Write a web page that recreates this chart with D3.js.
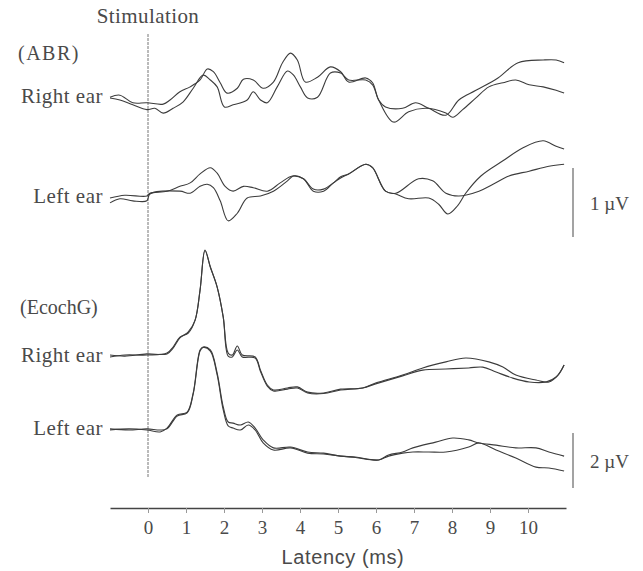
<!DOCTYPE html>
<html>
<head>
<meta charset="utf-8">
<script src="https://cdn.jsdelivr.net/npm/d3@7"></script>
<style>
  body { margin: 0; background: #fff; }
  text { font-family: "Liberation Serif", "Times New Roman", serif; fill: #4a4a4a; }
</style>
</head>
<body>
<svg id="chart" width="643" height="571"></svg>
<script>
// latency (ms), amplitude (uV)
const abrRight1 = [[-1,0.04],[-0.74,0.07],[-0.4,-0.04],[-0.03,-0.04],[0.4,-0.06],[0.58,0],[0.84,0.12],[1.11,0.19],[1.37,0.29],[1.56,0.45],[1.72,0.41],[1.9,0.25],[2.08,0.1],[2.35,0.17],[2.51,0.3],[2.77,0.29],[3.03,0.17],[3.3,0.26],[3.54,0.54],[3.75,0.68],[3.93,0.58],[4.14,0.26],[4.46,0.33],[4.8,0.48],[5.07,0.41],[5.28,0.26],[5.73,0.32],[5.91,0.25],[6.07,0],[6.25,-0.1],[6.7,-0.12],[7.04,-0.04],[7.39,-0.12],[7.84,-0.22],[8.18,0],[8.63,0.14],[9.21,0.32],[9.74,0.54],[10.4,0.58],[10.74,0.58],[10.95,0.54]];
const abrRight2 = [[-1,0.03],[-0.74,0],[-0.4,-0.07],[-0.03,-0.14],[0.18,-0.12],[0.4,-0.19],[0.66,-0.12],[0.92,-0.03],[1.19,0.17],[1.45,0.36],[1.64,0.29],[1.82,0.19],[2.01,-0.1],[2.24,-0.07],[2.61,0],[2.77,0.12],[2.96,0],[3.14,-0.04],[3.4,0.19],[3.67,0.42],[3.83,0.36],[4.01,0.19],[4.2,0.03],[4.46,0.04],[4.8,0.39],[5.07,0.39],[5.28,0.29],[5.73,0.29],[5.91,0.22],[6.07,0],[6.46,-0.32],[6.86,-0.17],[7.31,-0.12],[7.84,-0.19],[8.02,-0.25],[8.28,-0.14],[8.63,0.03],[8.97,0.19],[9.34,0.25],[9.68,0.29],[10.03,0.22],[10.4,0.19],[10.74,0.14],[10.95,0.1]];
const abrLeft1 = [[-1,-0.03],[-0.61,0.01],[-0.03,0],[0.05,0.04],[0.5,0.07],[0.84,0.14],[1.11,0.19],[1.37,0.32],[1.64,0.41],[1.82,0.33],[2.03,0.14],[2.24,0.07],[2.51,0.14],[2.77,0.12],[3.14,0.07],[3.48,0.19],[3.8,0.29],[4.09,0.25],[4.35,0.1],[4.62,0.1],[4.88,0.19],[5.07,0.28],[5.28,0.32],[5.73,0.46],[5.91,0.41],[6.25,0.07],[6.52,0.04],[7.12,0.25],[7.49,0.22],[7.84,0.04],[8.18,0],[8.71,0.07],[9.08,0.17],[9.5,0.29],[10.03,0.36],[10.55,0.43],[10.95,0.46]];
const abrLeft2 = [[-1,-0.1],[-0.74,-0.04],[-0.4,-0.07],[-0.03,-0.07],[0.05,0.03],[0.84,0.07],[1.11,0.04],[1.37,0.14],[1.56,0.17],[1.72,0.12],[1.9,-0.07],[2.11,-0.36],[2.35,-0.25],[2.61,-0.03],[2.96,0],[3.3,0.07],[3.67,0.22],[3.83,0.29],[4.09,0.25],[4.35,0.07],[4.62,0.07],[4.88,0.19],[5.07,0.26],[5.28,0.32],[5.73,0.46],[5.91,0.41],[6.25,0.07],[6.52,0.03],[6.86,-0.04],[7.39,-0.03],[7.65,-0.12],[7.89,-0.26],[8.15,-0.14],[8.36,0.04],[8.76,0.29],[9.34,0.51],[9.87,0.7],[10.4,0.8],[10.74,0.72],[10.95,0.68]];
const ecogRight1 = [[-1,-0.07],[-0.61,0],[-0.03,0],[0.5,0.07],[0.66,0.29],[0.84,0.65],[1.06,0.8],[1.24,1.27],[1.37,2.36],[1.5,3.82],[1.64,3.2],[1.82,2.47],[1.98,1.38],[2.11,0.07],[2.22,0],[2.35,0.33],[2.48,0],[2.82,-0.07],[2.96,-0.55],[3.14,-1.09],[3.3,-1.27],[3.67,-1.2],[3.93,-1.16],[4.2,-1.35],[4.62,-1.38],[5.07,-1.24],[5.65,-1.2],[5.99,-1.02],[6.7,-0.73],[7.23,-0.47],[7.84,-0.25],[8.36,-0.11],[8.97,-0.25],[9.34,-0.44],[9.68,-0.73],[10.21,-0.91],[10.55,-0.98],[10.79,-0.73],[10.95,-0.36]];
const ecogRight2 = [[-1,0],[-0.61,-0.04],[-0.03,0.04],[0.5,0.04],[0.66,0.25],[0.84,0.62],[1.06,0.84],[1.24,1.27],[1.37,2.36],[1.5,3.8],[1.64,3.2],[1.82,2.47],[1.98,1.38],[2.11,-0.04],[2.22,-0.07],[2.35,0.18],[2.48,-0.07],[2.82,-0.11],[2.96,-0.6],[3.14,-1.13],[3.3,-1.31],[3.67,-1.24],[3.93,-1.2],[4.2,-1.38],[4.62,-1.4],[5.07,-1.27],[5.65,-1.2],[5.99,-1.05],[6.7,-0.76],[7.23,-0.55],[7.84,-0.51],[8.44,-0.47],[8.81,-0.44],[9.16,-0.62],[9.6,-0.84],[10.03,-0.98],[10.47,-0.98],[10.74,-0.8],[10.95,-0.36]];
const ecogLeft1 = [[-1,0],[-0.5,0.04],[-0.03,0],[0.32,-0.07],[0.5,0.07],[0.77,0.55],[1.03,0.65],[1.19,1.35],[1.37,2.91],[1.45,3.02],[1.64,2.91],[1.82,2.07],[1.98,0.84],[2.11,0.29],[2.24,0.25],[2.43,0.18],[2.64,0.29],[2.82,0.07],[3.03,-0.36],[3.3,-0.65],[3.75,-0.62],[4.2,-0.8],[4.62,-0.84],[5.07,-0.95],[5.46,-0.98],[6.07,-1.09],[6.33,-0.91],[6.7,-0.8],[6.97,-0.65],[7.57,-0.44],[8.02,-0.29],[8.44,-0.36],[8.71,-0.47],[9.16,-0.55],[9.68,-0.65],[10.21,-0.65],[10.55,-0.8],[10.95,-0.95]];
const ecogLeft2 = [[-1,0.04],[-0.5,0],[-0.03,0.04],[0.32,0],[0.5,0.04],[0.77,0.51],[1.03,0.62],[1.19,1.31],[1.37,2.87],[1.45,3.0],[1.64,2.87],[1.82,2.0],[1.98,0.73],[2.11,0.15],[2.24,0.07],[2.43,0],[2.64,0.18],[2.82,0],[3.03,-0.47],[3.3,-0.73],[3.75,-0.65],[4.2,-0.84],[4.62,-0.87],[5.07,-0.95],[5.46,-1.0],[6.07,-1.09],[6.33,-0.95],[6.7,-0.84],[6.97,-0.8],[7.39,-0.8],[7.84,-0.8],[8.44,-0.62],[8.71,-0.47],[9.16,-0.73],[9.68,-1.02],[10.21,-1.35],[10.55,-1.38],[10.95,-1.49]];

const tickValues = [0,1,2,3,4,5,6,7,8,9,10];
const groupLabels = ["(ABR)", "(EcochG)"];
const earLabels = ["Right ear", "Left ear", "Right ear", "Left ear"];
const scaleBarValues = [1, 2];   // uV
const scaleBarLabels = ["1 \u00b5V", "2 \u00b5V"];

const svg = d3.select("#chart");

const x = d3.scaleLinear().domain([-1, 11]).range([110, 566]);

// px per uV: ABR 69, EcochG 27.5
function yScale(base, pxPerUv) {
  return d3.scaleLinear().domain([0, 1]).range([base, base - pxPerUv]);
}
const yAbrR = yScale(100, 69), yAbrL = yScale(196, 69);
const yEcoR = yScale(355, 27.5), yEcoL = yScale(430, 27.5);

const traces = [
  { data: abrRight1, y: yAbrR }, { data: abrRight2, y: yAbrR },
  { data: abrLeft1, y: yAbrL }, { data: abrLeft2, y: yAbrL },
  { data: ecogRight1, y: yEcoR }, { data: ecogRight2, y: yEcoR },
  { data: ecogLeft1, y: yEcoL }, { data: ecogLeft2, y: yEcoL }
];

// stimulation marker
svg.append("line")
  .attr("x1", x(0)).attr("x2", x(0))
  .attr("y1", 34).attr("y2", 478)
  .attr("stroke", "#777").attr("stroke-width", 1)
  .attr("stroke-dasharray", "3,1");

svg.append("text")
  .attr("x", x(0)).attr("y", 23)
  .attr("text-anchor", "middle")
  .attr("font-size", 21)
  .attr("letter-spacing", 0.4)
  .text("Stimulation");

svg.append("g")
  .selectAll("path")
  .data(traces)
  .join("path")
  .attr("fill", "none")
  .attr("stroke", "#3c3c3c")
  .attr("stroke-width", 1.1)
  .attr("d", (d) => d3.line()
    .x((p) => x(p[0]))
    .y((p) => d.y(p[1]))
    .curve(d3.curveCatmullRom.alpha(0.5))(d.data));

// group + ear labels
svg.selectAll(".grp")
  .data(groupLabels)
  .join("text")
  .attr("class", "grp")
  .attr("x", (d, i) => i == 0 ? 18 : 20)
  .attr("y", (d, i) => i == 0 ? 60 : 314)
  .attr("font-size", 20)
  .attr("letter-spacing", (d, i) => i == 0 ? 1.5 : 0)
  .text((d) => d);

const earY = [103, 203, 362, 435];
svg.selectAll(".ear")
  .data(earLabels)
  .join("text")
  .attr("class", "ear")
  .attr("x", 103)
  .attr("y", (d, i) => earY[i])
  .attr("text-anchor", "end")
  .attr("font-size", 21)
  .attr("letter-spacing", 0.5)
  .text((d) => d);

// scale bars
const barTop = [168, 433];
const barScales = [yAbrR, yEcoR];
scaleBarValues.forEach((v, i) => {
  const len = barScales[i](0) - barScales[i](v);
  svg.append("line")
    .attr("x1", 573).attr("x2", 573)
    .attr("y1", barTop[i]).attr("y2", barTop[i] + len)
    .attr("stroke", "#666").attr("stroke-width", 1.2);
  svg.append("text")
    .attr("x", 590).attr("y", barTop[i] + len / 2 + 7)
    .attr("font-size", 19)
    .text(scaleBarLabels[i]);
});

// latency axis
const axis = svg.append("g")
  .attr("transform", "translate(0,508)")
  .call(d3.axisBottom(x).tickValues(tickValues).tickSize(5).tickPadding(8).tickSizeOuter(0));
axis.select(".domain").attr("stroke", "#444").attr("stroke-width", 1.5);
axis.selectAll(".tick line").attr("stroke", "#999");
axis.selectAll(".tick text")
  .attr("font-family", "Liberation Serif, serif")
  .attr("font-size", 19)
  .attr("fill", "#666");

svg.append("text")
  .attr("x", 343).attr("y", 564)
  .attr("text-anchor", "middle")
  .attr("font-size", 20)
  .attr("letter-spacing", 0.6)
  .style("font-family", "Liberation Sans, Arial, sans-serif")
  .attr("fill", "#555")
  .text("Latency (ms)");
</script>
</body>
</html>
